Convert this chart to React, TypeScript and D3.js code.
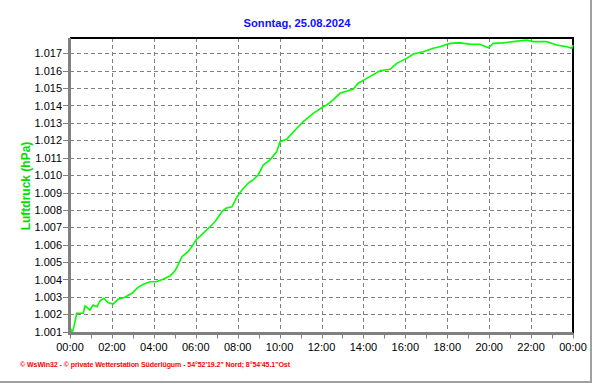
import React from "react";
import * as d3 from "d3";

const hours: number[] = [
  0.0, 0.1, 0.19, 0.32, 0.63, 0.72, 0.95, 1.1, 1.29, 1.43, 1.62, 1.81, 2.05, 2.29, 2.62, 2.96,
  3.24, 3.53, 3.82, 4.1, 4.44, 4.77, 5.01, 5.15, 5.34, 5.63, 5.82, 6.01, 6.35, 6.68, 6.92, 7.25,
  7.44, 7.73, 7.97, 8.21, 8.49, 8.73, 8.98, 9.22, 9.54, 9.86, 10.02, 10.34, 10.82, 11.13, 11.61,
  12.08, 12.25, 12.56, 12.88, 13.52, 13.75, 14.16, 14.79, 15.27, 15.59, 16.06, 16.38, 16.86,
  17.33, 17.65, 18.13, 18.61, 19.08, 19.56, 19.96, 20.2, 20.67, 21.15, 21.79, 22.1, 22.74,
  23.22, 23.7, 23.94, 24.0,
];
const pressure: number[] = [
  1.00129, 1.00094, 1.00129, 1.00206, 1.00206, 1.00248, 1.00225, 1.00253, 1.00244, 1.00278,
  1.00292, 1.00267, 1.00259, 1.00286, 1.00298, 1.00321, 1.00355, 1.00374, 1.00387, 1.00387,
  1.00401, 1.0042, 1.0045, 1.00483, 1.00531, 1.0056, 1.00589, 1.00627, 1.00665, 1.00703,
  1.00732, 1.0079, 1.00809, 1.00818, 1.00876, 1.00914, 1.00953, 1.00972, 1.01001, 1.01058,
  1.01087, 1.01134, 1.01192, 1.01206, 1.01269, 1.01307, 1.01355, 1.01393, 1.01403, 1.01432,
  1.0147, 1.01495, 1.01528, 1.01556, 1.016, 1.01608, 1.01642, 1.01671, 1.01696, 1.01709,
  1.01729, 1.01738, 1.01757, 1.0176, 1.01753, 1.01752, 1.01732, 1.01757, 1.0176, 1.01767,
  1.01776, 1.01767, 1.01767, 1.01748, 1.01738, 1.01729, 1.01748,
];
const yTicks: number[] = [
  1.001, 1.002, 1.003, 1.004, 1.005, 1.006, 1.007, 1.008, 1.009, 1.01, 1.011, 1.012, 1.013,
  1.014, 1.015, 1.016, 1.017,
];
const xTickLabels: string[] = [
  "00:00", "02:00", "04:00", "06:00", "08:00", "10:00", "12:00", "14:00", "16:00", "18:00",
  "20:00", "22:00", "00:00",
];
const title = "Sonntag, 25.08.2024";
const yLabel = "Luftdruck (hPa)";
const footer = "\u00a9 WsWin32  -  \u00a9 private Wetterstation S\u00fcderl\u00fcgum  -  54\u00b052'19.2\" Nord; 8\u00b054'45.1\"Ost";

export default function App() {
  const W = 592, H = 384;
  const left = 70, right = 573, top = 38, bottom = 333.5;
  const x = d3.scaleLinear().domain([0, 24]).range([left, right]);
  const y = d3.scaleLinear().domain([1.001, 1.017]).range([331.7, 53.3]);
  const pts = hours.map((h, i) => [h, pressure[i]] as [number, number]);
  const line = d3.line<[number, number]>().x((d) => x(d[0])).y((d) => y(d[1]));
  const hourTicks = d3.range(0, 25, 1);
  const font = "Arial, 'Liberation Sans', sans-serif";
  return (
    <svg width={W} height={H} style={{ position: "absolute", left: 0, top: 0, display: "block", background: "#fff" }}>
      <rect x={0} y={0} width={W} height={H} fill="#fff" />
      <line x1={591} y1={0} x2={591} y2={382} stroke="#a0a0a0" strokeWidth={2} />
      <line x1={0} y1={382} x2={592} y2={382} stroke="#a0a0a0" strokeWidth={2} />
      <text x={297} y={27} textAnchor="middle" fontFamily={font} fontWeight="bold" fontSize={11.2} fill="#1010ff">
        {title}
      </text>
      {yTicks.map((v) => (
        <line key={"gy" + v} x1={left} x2={right} y1={Math.round(y(v)) + 0.5} y2={Math.round(y(v)) + 0.5} stroke="#808080" strokeDasharray="4,3" />
      ))}
      {xTickLabels.map((_, i) => (
        <line key={"gx" + i} x1={Math.round(x(i * 2)) + 0.5} x2={Math.round(x(i * 2)) + 0.5} y1={top} y2={bottom} stroke="#808080" strokeDasharray="4,3" />
      ))}
      <line x1={left} y1={top} x2={right + 1} y2={top} stroke="#000" strokeWidth={2} />
      <line x1={right} y1={top} x2={right} y2={bottom} stroke="#000" strokeWidth={2} />
      <path d={line(pts) || ""} fill="none" stroke="#00ff00" strokeWidth={1.6} strokeLinejoin="miter" />
      <line x1={69.5} y1={top} x2={69.5} y2={bottom + 1} stroke="#808080" strokeWidth={3} />
      <line x1={68} y1={bottom} x2={right} y2={bottom} stroke="#808080" strokeWidth={3} />
      {yTicks.map((v) => (
        <g key={"ty" + v}>
          <line x1={63} x2={68} y1={Math.round(y(v)) + 0.5} y2={Math.round(y(v)) + 0.5} stroke="#808080" />
          <text x={62} y={y(v) + 4} textAnchor="end" fontFamily={font} fontSize={11} fill="#000">
            {d3.format(".3f")(v)}
          </text>
        </g>
      ))}
      {hourTicks.map((h) => (
        <line key={"th" + h} x1={Math.round(x(h)) + 0.5} x2={Math.round(x(h)) + 0.5} y1={bottom} y2={bottom + 5} stroke="#808080" />
      ))}
      {xTickLabels.map((t, i) => (
        <text key={"tx" + i} x={x(i * 2)} y={351} textAnchor="middle" fontFamily={font} fontSize={11} fill="#000">
          {t}
        </text>
      ))}
      <text transform="translate(30,186) rotate(-90)" textAnchor="middle" fontFamily={font} fontWeight="bold" fontSize={12} fill="#00dd00">
        {yLabel}
      </text>
      <text x={20} y={367} fontFamily={font} fontWeight="bold" fontSize={7} fill="#ff0000" textLength={270} lengthAdjust="spacing">
        {footer}
      </text>
    </svg>
  );
}
